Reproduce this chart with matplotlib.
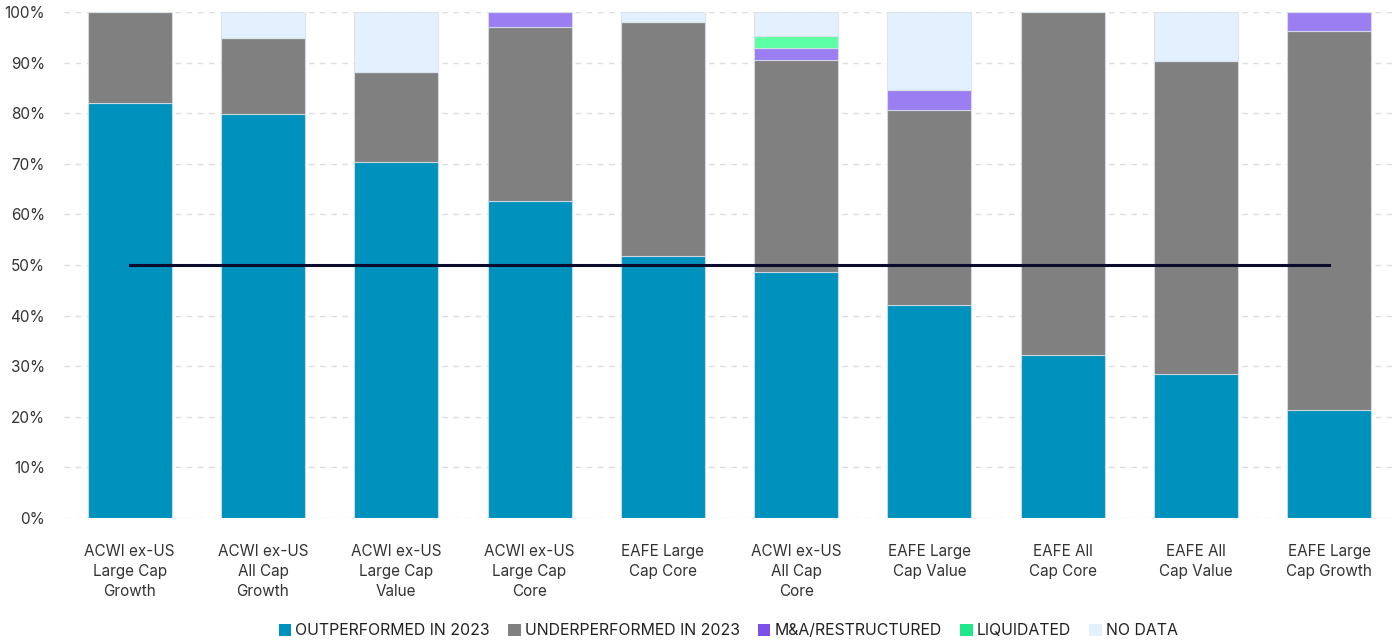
import matplotlib
matplotlib.use("Agg")
import matplotlib.pyplot as plt
import numpy as np
from matplotlib.patches import Patch

plt.rcParams['font.family'] = ['Inter', 'DejaVu Sans']

categories = ["ACWI ex-US\nLarge Cap\nGrowth", "ACWI ex-US\nAll Cap\nGrowth",
              "ACWI ex-US\nLarge Cap\nValue", "ACWI ex-US\nLarge Cap\nCore",
              "EAFE Large\nCap Core", "ACWI ex-US\nAll Cap\nCore",
              "EAFE Large\nCap Value", "EAFE All\nCap Core",
              "EAFE All\nCap Value", "EAFE Large\nCap Growth"]

outperformed = [82.0, 79.8, 70.4, 62.6, 51.8, 48.6, 42.1, 32.2, 28.5, 21.3]
underperformed = [18.0, 15.1, 17.7, 34.4, 46.2, 41.9, 38.5, 67.8, 61.8, 74.9]
restructured = [0.0, 0.0, 0.0, 3.0, 0.0, 2.4, 4.0, 0.0, 0.0, 3.8]
liquidated = [0.0, 0.0, 0.0, 0.0, 0.0, 2.4, 0.0, 0.0, 0.0, 0.0]
no_data = [0.0, 5.1, 11.9, 0.0, 2.0, 4.7, 15.4, 0.0, 9.7, 0.0]
benchmark = 50

series = [
    ("OUTPERFORMED IN 2023", outperformed, "#0091bd", "#0091bd"),
    ("UNDERPERFORMED IN 2023", underperformed, "#808080", "#808080"),
    ("M&A/RESTRUCTURED", restructured, "#9b7ff2", "#7c4fe9"),
    ("LIQUIDATED", liquidated, "#5cffa4", "#1ee88a"),
    ("NO DATA", no_data, "#e3f0fd", "#e3f0fd"),
]

fig = plt.figure(figsize=(14, 6.41), dpi=100)
ax = fig.add_axes([0.046, 0.192, 0.951, 0.789])

x = np.arange(len(categories))
bottom = np.zeros(len(categories))
handles = []
for name, vals, col, legcol in series:
    vals = np.array(vals)
    ax.bar(x, vals, 0.63, bottom=bottom, color=col,
           edgecolor=(0.85, 0.88, 0.92, 0.8), linewidth=0.8, zorder=2)
    bottom += vals
    handles.append(Patch(facecolor=legcol, label=name))

# 50% reference line across the bar centres
ax.plot([x[0], x[-1]], [benchmark, benchmark], color="#0b0b2e", linewidth=2.2, zorder=3)

ax.set_xlim(-0.49, 9.5)
ax.set_ylim(0, 100)
ax.set_yticks(np.arange(0, 101, 10))
ax.set_yticklabels([f"{v}%" for v in range(0, 101, 10)])
ax.yaxis.grid(True, linestyle=(0, (4, 4)), color="#dddddd", linewidth=1, zorder=0)
ax.set_axisbelow(True)
for s in ax.spines.values():
    s.set_visible(False)
ax.tick_params(axis='y', length=0, labelsize=11, labelcolor="#333333", pad=14)
ax.set_xticks(x)
ax.set_xticklabels(categories, fontsize=11, color="#333333", linespacing=1.42, va="top")
ax.tick_params(axis='x', length=0, pad=19)

fig.legend(handles=handles, loc="lower center", bbox_to_anchor=(0.52, -0.018), ncol=5,
           frameon=False, fontsize=11.4, handlelength=0.8, handleheight=0.8,
           handletextpad=0.25, columnspacing=1.15, labelcolor="#222222")

fig.savefig("out.png", dpi=100)
